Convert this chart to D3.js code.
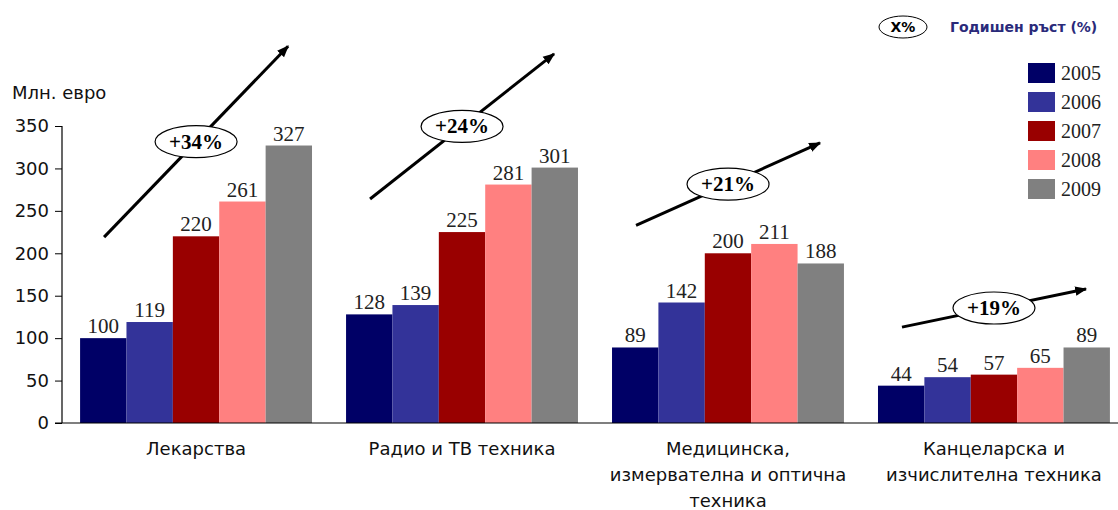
<!DOCTYPE html>
<html>
<head>
<meta charset="utf-8">
<script src="https://cdn.jsdelivr.net/npm/d3@7"></script>
<style>
  body { margin: 0; background: #fff; }
  svg { display: block; }
</style>
</head>
<body>
<div id="chart"></div>
<script>
var categories = [
    ["Лекарства"],
    ["Радио и ТВ техника"],
    ["Медицинска,", "измервателна и оптична", "техника"],
    ["Канцеларска и", "изчислителна техника"]
];
var years = ["2005", "2006", "2007", "2008", "2009"];
var values = [
    [100, 119, 220, 261, 327],
    [128, 139, 225, 281, 301],
    [89, 142, 200, 211, 188],
    [44, 54, 57, 65, 89]
];
var growth = ["+34%", "+24%", "+21%", "+19%"];
// arrow ends in data units (start value, end value)
var arrowFrom = [219, 264, 233, 113];
var arrowTo = [444, 435, 330, 158];
var yTicks = [0, 50, 100, 150, 200, 250, 300, 350];
var colors = ["#000066", "#333399", "#990000", "#ff8080", "#808080"];

var WIDTH = 1118, HEIGHT = 510;
var svg = d3.select("#chart").append("svg")
    .attr("width", WIDTH)
    .attr("height", HEIGHT);

var y = d3.scaleLinear().domain([0, 350]).range([423, 126]);
var x0 = d3.scaleBand().domain(d3.range(4)).range([62, 1128])
    .paddingInner(0.128).paddingOuter(0.068);
var x1 = d3.scaleBand().domain(years).range([0, x0.bandwidth()]);
var color = d3.scaleOrdinal().domain(years).range(colors);

var serif = "'Liberation Serif', 'Times New Roman', serif";
var sans = "'DejaVu Sans', Verdana, sans-serif";

// bars
var groups = svg.append("g").selectAll("g")
    .data(values).enter().append("g")
    .attr("transform", function (d, i) { return "translate(" + x0(i) + ",0)"; });

groups.selectAll("rect")
    .data(function (d) { return d.map(function (v, j) { return { year: years[j], v: v }; }); })
    .enter().append("rect")
    .attr("x", function (d) { return x1(d.year); })
    .attr("width", x1.bandwidth())
    .attr("y", function (d) { return y(d.v); })
    .attr("height", function (d) { return y(0) - y(d.v); })
    .attr("fill", function (d) { return color(d.year); });

groups.selectAll("text.val")
    .data(function (d) { return d.map(function (v, j) { return { year: years[j], v: v }; }); })
    .enter().append("text")
    .attr("class", "val")
    .attr("x", function (d) { return x1(d.year) + x1.bandwidth() / 2; })
    .attr("y", function (d) { return y(d.v) - 5; })
    .attr("text-anchor", "middle")
    .style("font-family", serif)
    .style("font-size", "21px")
    .style("fill", "#222")
    .text(function (d) { return d.v; });

// y axis
var yAxis = d3.axisLeft(y).tickValues(yTicks).tickSize(7).tickPadding(6);
var ya = svg.append("g").attr("transform", "translate(62,0)").call(yAxis);
ya.select(".domain").attr("stroke", "#000").attr("stroke-width", 1.2)
    .attr("d", "M0," + y(350) + "V" + y(0));
ya.selectAll("text").style("font-family", sans).style("font-size", "18px").style("fill", "#111");

// x baseline
svg.append("line")
    .attr("x1", 55).attr("x2", 1118)
    .attr("y1", y(0)).attr("y2", y(0))
    .attr("stroke", "#000").attr("stroke-width", 1.2);

// category labels
svg.append("g").selectAll("text")
    .data(categories).enter().append("text")
    .attr("text-anchor", "middle")
    .style("font-family", sans)
    .style("font-size", "18px")
    .style("fill", "#111")
    .each(function (d, i) {
        var t = d3.select(this);
        d.forEach(function (line, k) {
            t.append("tspan")
                .attr("x", x0(i) + x0.bandwidth() / 2)
                .attr("y", 455 + k * 26)
                .text(line);
        });
    });

// y title
svg.append("text")
    .attr("x", 12).attr("y", 99)
    .style("font-family", sans)
    .style("font-size", "18px")
    .style("fill", "#111")
    .text("Млн. евро");

// growth arrows
svg.append("defs").append("marker")
    .attr("id", "arr")
    .attr("viewBox", "0 0 10 10")
    .attr("refX", 9).attr("refY", 5)
    .attr("markerWidth", 4).attr("markerHeight", 4)
    .attr("orient", "auto")
    .append("path").attr("d", "M0,1 L10,5 L0,9 Z").attr("fill", "#000");

var arrows = svg.append("g").selectAll("g")
    .data(growth).enter().append("g");

arrows.append("line")
    .attr("x1", function (d, i) { return x0(i) + 24; })
    .attr("y1", function (d, i) { return y(arrowFrom[i]); })
    .attr("x2", function (d, i) { return x0(i) + 208; })
    .attr("y2", function (d, i) { return y(arrowTo[i]); })
    .attr("stroke", "#000")
    .attr("stroke-width", 3)
    .attr("marker-end", "url(#arr)");

arrows.append("ellipse")
    .attr("cx", function (d, i) { return x0(i) + 116; })
    .attr("cy", function (d, i) { return y((arrowFrom[i] + arrowTo[i]) / 2); })
    .attr("rx", 41).attr("ry", 16)
    .attr("fill", "#fff")
    .attr("stroke", "#000").attr("stroke-width", 1.2);

arrows.append("text")
    .attr("x", function (d, i) { return x0(i) + 116; })
    .attr("y", function (d, i) { return y((arrowFrom[i] + arrowTo[i]) / 2) + 7; })
    .attr("text-anchor", "middle")
    .style("font-family", serif)
    .style("font-weight", "bold")
    .style("font-size", "21px")
    .text(function (d) { return d; });

// legend header
svg.append("ellipse")
    .attr("cx", 903).attr("cy", 27).attr("rx", 24).attr("ry", 11)
    .attr("fill", "#fff").attr("stroke", "#000").attr("stroke-width", 1);
svg.append("text")
    .attr("x", 903).attr("y", 32)
    .attr("text-anchor", "middle")
    .style("font-family", sans).style("font-weight", "bold").style("font-size", "14px")
    .text("X%");
svg.append("text")
    .attr("x", 950).attr("y", 32)
    .style("font-family", sans).style("font-weight", "bold").style("font-size", "14px")
    .style("fill", "#2a2a7a")
    .text("Годишен ръст (%)");

// legend
var legend = svg.append("g").selectAll("g")
    .data(years).enter().append("g")
    .attr("transform", function (d, i) { return "translate(1028," + (63 + i * 29) + ")"; });
legend.append("rect")
    .attr("width", 27).attr("height", 20)
    .attr("fill", function (d) { return color(d); });
legend.append("text")
    .attr("x", 33).attr("y", 17)
    .style("font-family", serif).style("font-size", "20px").style("fill", "#222")
    .text(function (d) { return d; });
</script>
</body>
</html>
